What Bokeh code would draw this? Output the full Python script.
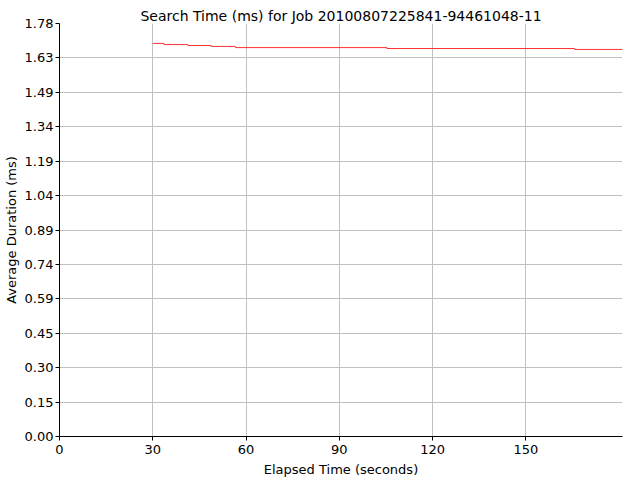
import numpy as np
from bokeh.plotting import figure
from bokeh.models import Range1d, FixedTicker
from bokeh.embed import file_html
from bokeh.resources import INLINE

# ---- data ----
title_text = "Search Time (ms) for Job 20100807225841-94461048-11"
x_label = "Elapsed Time (seconds)"
y_label = "Average Duration (ms)"

elapsed = [30.0, 33.6, 41.3, 48.8, 56.6, 105.3, 165.7, 181.1]
avg_ms = [1.697, 1.692, 1.688, 1.684, 1.679, 1.675, 1.671, 1.671]

x_ticks = [0, 30, 60, 90, 120, 150]
y_max = 1.783
y_tick_labels = ["0.00", "0.15", "0.30", "0.45", "0.59", "0.74", "0.89",
                 "1.04", "1.19", "1.34", "1.49", "1.63", "1.78"]
x_max = 181.1

FONT = "DejaVu Sans"

W, H = 640, 480
BL, BR, BT, BB = 58, 18, 23, 44

p = figure(width=W, height=H, output_backend="svg", toolbar_location=None,
           x_range=Range1d(0, x_max), y_range=Range1d(0, y_max),
           min_border_left=BL, min_border_right=BR, min_border_top=BT,
           min_border_bottom=BB, title=title_text,
           x_axis_label=x_label, y_axis_label=y_label)
p.outline_line_color = None
p.background_fill_color = "white"
p.border_fill_color = "white"

p.title.align = "center"
p.title.text_font = FONT
p.title.text_font_size = "14px"
p.title.text_font_style = "normal"
p.title.text_color = "black"
p.title.standoff = 0
p.title.offset = 0

n = len(y_tick_labels) - 1
y_ticks = [round(y_max * k / n, 6) for k in range(n)] + [y_max]
p.yaxis.ticker = FixedTicker(ticks=y_ticks)
p.yaxis.major_label_overrides = {t: l for t, l in zip(y_ticks, y_tick_labels)}
p.xaxis.ticker = FixedTicker(ticks=x_ticks)

for ax in (p.xaxis[0], p.yaxis[0]):
    ax.axis_line_color = "black"
    ax.axis_line_width = 1
    ax.major_tick_line_color = "black"
    ax.major_tick_out = 4
    ax.major_tick_in = 0
    ax.minor_tick_line_color = None
    ax.major_label_text_font = FONT
    ax.major_label_text_font_size = "13px"
    ax.major_label_text_color = "black"
    ax.major_label_standoff = 2
    ax.axis_label_text_font = FONT
    ax.axis_label_text_font_size = "13px"
    ax.axis_label_text_font_style = "normal"
    ax.axis_label_text_color = "black"

p.xaxis.major_label_standoff = 4
p.xaxis.axis_label_standoff = 5
p.yaxis.axis_label_standoff = 3

p.xgrid.grid_line_color = "#c0c0c0"
p.ygrid.grid_line_color = "#c0c0c0"

p.step(elapsed, avg_ms, mode="after", line_color="#ff3333", line_width=1)

open("out.html", "w").write(file_html(p, INLINE))
